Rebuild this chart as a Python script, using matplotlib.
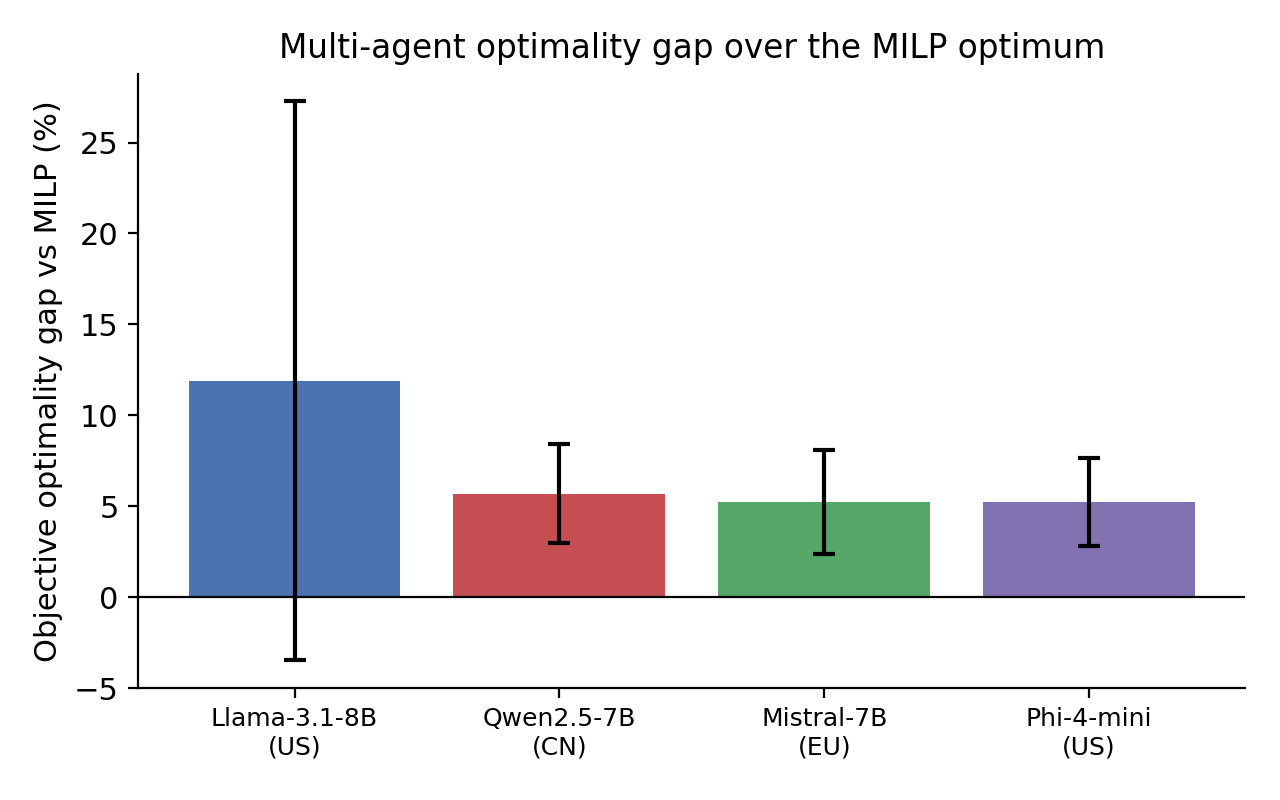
import matplotlib
matplotlib.use("Agg")
import matplotlib.pyplot as plt
import numpy as np

models = ["Llama-3.1-8B\n(US)", "Qwen2.5-7B\n(CN)", "Mistral-7B\n(EU)", "Phi-4-mini\n(US)"]
gap_mean = [11.9, 5.68, 5.22, 5.23]
gap_err = [15.37, 2.72, 2.87, 2.40]
colors = ["#4C72B0", "#C44E52", "#55A868", "#8172B2"]

fig, ax = plt.subplots(figsize=(6.4, 4.0), dpi=200)
x = np.arange(len(models))
ax.bar(x, gap_mean, width=0.8, color=colors, yerr=gap_err,
       error_kw=dict(ecolor="black", elinewidth=1.5, capsize=4, capthick=1.5))
ax.axhline(0, color="black", linewidth=0.8)
ax.set_ylim(-5, 28.75)
ax.set_xticks(x)
ax.set_xticklabels(models, fontsize=9)
ax.tick_params(axis="y", labelsize=11)
ax.set_ylabel("Objective optimality gap vs MILP (%)", fontsize=11)
ax.set_title("Multi-agent optimality gap over the MILP optimum", fontsize=11.8)
ax.spines["top"].set_visible(False)
ax.spines["right"].set_visible(False)
fig.subplots_adjust(left=0.108, right=0.973, top=0.907, bottom=0.14)
fig.savefig("out.png", dpi=200)
